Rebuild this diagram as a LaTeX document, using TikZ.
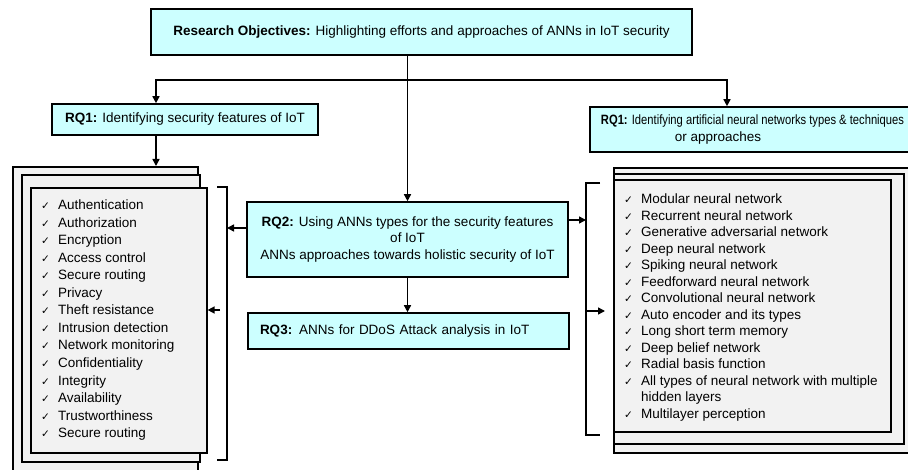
\documentclass[tikz,border=0pt]{standalone}
\usepackage{fontspec}
\setmainfont{Liberation Sans}
\newfontfamily\symfont{DejaVu Sans}
\usetikzlibrary{arrows.meta}
\definecolor{qfill}{HTML}{CCFFFF}
\definecolor{listfill}{HTML}{F2F2F2}
\tikzset{
  >={Triangle[length=7pt,width=7pt]},
  qbox/.style={draw=black, line width=1.6pt, fill=qfill, inner sep=0pt,
    font=\fontsize{13.5}{16.5}\selectfont},
  sheet/.style={draw=black, line width=1.6pt, fill=listfill, inner sep=0pt, anchor=north west},
  conn/.style={line width=1.5pt, ->},
  brk/.style={line width=1.5pt},
  item/.style={anchor=base west, inner sep=0pt, font=\fontsize{13.5}{16}\selectfont},
  tick/.style={anchor=base west, inner sep=0pt, font=\symfont\fontsize{10.5}{12}\selectfont},
}
\begin{document}
\begin{tikzpicture}[x=1pt, y=1pt]
\useasboundingbox (0,0) rectangle (908,-470);
\fill[white] (0,0) rectangle (908,-470);

% question boxes
\node[qbox, minimum width=541pt, minimum height=46pt] (obj) at (421.5,-32)
  {\textbf{Research Objectives:} Highlighting efforts and approaches of ANNs in IoT security};
\node[qbox, minimum width=266pt, minimum height=31pt] (rq1l) at (185,-119.5)
  {\textbf{RQ1:} Identifying security features of IoT};
\node[qbox, minimum width=325pt, minimum height=45pt, align=center] (rq1r) at (752.5,-129.5)
  {{\addfontfeatures{FakeStretch=0.83}\textbf{RQ1:} Identifying artificial neural networks types \& techniques}\\or approaches\hspace*{69pt}};
\node[qbox, minimum width=321pt, minimum height=75pt, align=center] (rq2) at (407.5,-239.5)
  {\textbf{RQ2:} Using ANNs types for the security features\\of IoT\\ANNs approaches towards holistic security of IoT};
\node[qbox, minimum width=321pt, minimum height=36pt, text width=297pt, align=left] (rq3) at (408.5,-331)
  {\textbf{RQ3:} ANNs for DDoS Attack analysis in IoT};

% stacked sheets, left
\node[sheet, minimum width=185pt, minimum height=320pt] (lOuter) at (12,-166) {};
\node[sheet, minimum width=178pt, minimum height=287pt] (lMid) at (21,-174) {};
\node[sheet, minimum width=176pt, minimum height=265pt] (lIn) at (30,-187) {};
% stacked sheets, right
\node[sheet, minimum width=310pt, minimum height=285pt] (rOuter) at (613,-167) {};
\node[sheet, minimum width=290pt, minimum height=270pt] (rMid) at (613,-173) {};
\node[sheet, minimum width=277pt, minimum height=252pt] (rIn) at (613,-179) {};

% security features
\foreach \t [count=\i from 0] in {Authentication, Authorization, Encryption,
    Access control, Secure routing, Privacy, Theft resistance, Intrusion detection,
    Network monitoring, Confidentiality, Integrity, Availability, Trustworthiness,
    Secure routing} {
  \node[tick] (lt\i) at (41,-210-17.5*\i) {✓};
  \node[item] (li\i) at (58,-210-17.5*\i) {\t};
}

% network types
\foreach \k/\t in {0/Modular neural network, 1/Recurrent neural network,
    2/Generative adversarial network, 3/Deep neural network, 4/Spiking neural network,
    5/Feedforward neural network, 6/Convolutional neural network,
    7/Auto encoder and its types, 8/Long short term memory, 9/Deep belief network,
    10/Radial basis function, 11/All types of neural network with multiple,
    13/Multilayer perception} {
  \node[tick] (rt\k) at (624,-204-16.5*\k) {✓};
  \node[item] (ri\k) at (641,-204-16.5*\k) {\t};
}
\node[item] (ri12) at (641,-204-16.5*12) {hidden layers};

% connectors
\coordinate (hL) at (156,-80);
\coordinate (hR) at (727,-80);
\draw[conn] (obj.south -| rq2.north) -- (rq2.north);
\draw[conn, <->] (hL |- rq1l.north) -- (hL) -- (hR) -- (hR |- rq1r.north);
\draw[conn] (rq1l.south -| hL) -- (lOuter.north -| hL);
\draw[conn] (rq2.south) -- (rq3.north -| rq2.south);

% brackets
\coordinate (bl1) at (227,-187);
\coordinate (bl2) at (227,-460);
\draw[brk] ([xshift=-10pt]bl1) -- (bl1) -- (bl2) -- ([xshift=-10pt]bl2);
\coordinate (br1) at (586,-183);
\coordinate (br2) at (586,-435);
\draw[brk] ([xshift=14pt]br1) -- (br1) -- (br2) -- ([xshift=14pt]br2);

\coordinate (bLa) at (227,-228);
\draw[conn] (rq2.west |- bLa) -- (bLa);
\coordinate (bLb) at (220,-310);
\draw[conn] (bLb) -- (bLb -| lIn.east);
\coordinate (bRa) at (586,-220);
\draw[conn] (rq2.east |- bRa) -- (bRa);
\coordinate (bRb) at (586,-311);
\draw[conn, shorten >=8pt] (bRb) -- (bRb -| rIn.west);
\end{tikzpicture}
\end{document}
